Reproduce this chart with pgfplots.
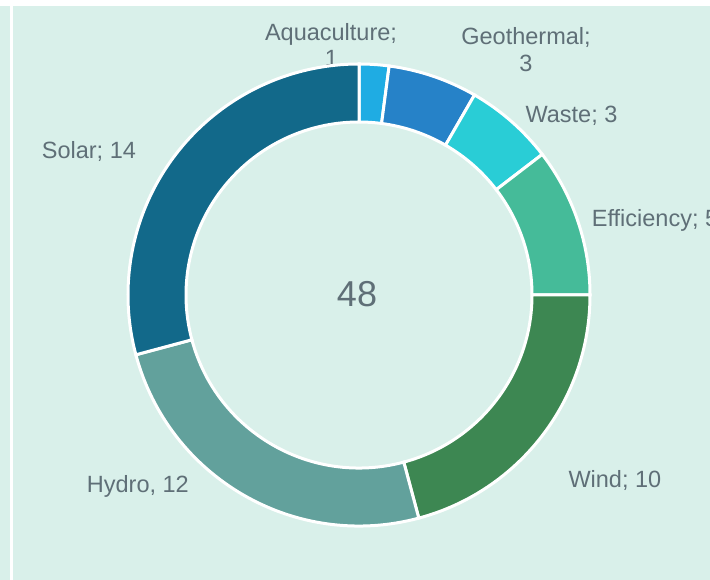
\documentclass[border=0pt]{standalone}
\usepackage{pgfplots}
\pgfplotsset{compat=1.18}
\usepackage{pgfplotstable}
\usepackage{fontspec}
\setmainfont{Liberation Sans}
\definecolor{bg}{HTML}{D9F0EA}
\definecolor{txt}{HTML}{5F6F77}
\definecolor{cAqua}{HTML}{1FACE3}
\definecolor{cGeo}{HTML}{2682C8}
\definecolor{cWaste}{HTML}{29CDD6}
\definecolor{cEff}{HTML}{45BB99}
\definecolor{cWind}{HTML}{3D8752}
\definecolor{cHydro}{HTML}{62A19C}
\definecolor{cSolar}{HTML}{12698A}
\newcommand\lbl{\fontsize{23.5bp}{28bp}\selectfont}
\pgfplotstableread{
name value col
Aquaculture 1 cAqua
Geothermal 3 cGeo
Waste 3 cWaste
Efficiency 5 cEff
Wind 10 cWind
Hydro 12 cHydro
Solar 14 cSolar
}\slices
\begin{document}
\begin{tikzpicture}
\def\total{0}
\pgfplotsforeachungrouped \i in {0,...,6}{%
  \pgfplotstablegetelem{\i}{value}\of\slices
  \pgfmathsetmacro\total{\total+\pgfplotsretval}%
}
\def\cum{0}
\pgfplotsforeachungrouped \i in {0,...,6}{%
  \pgfplotstablegetelem{\i}{value}\of\slices
  \pgfmathsetmacro\s{90-(\cum/\total)*360}%
  \pgfmathsetmacro\cum{\cum+\pgfplotsretval}%
  \pgfmathsetmacro\e{90-(\cum/\total)*360}%
  \expandafter\xdef\csname sliceS\i\endcsname{\s}%
  \expandafter\xdef\csname sliceE\i\endcsname{\e}%
  \pgfplotstablegetelem{\i}{col}\of\slices
  \expandafter\xdef\csname sliceC\i\endcsname{\pgfplotsretval}%
}
\begin{axis}[width=710bp,height=580bp,scale only axis,
  xmin=0,xmax=710,ymin=0,ymax=580,hide axis,clip=true]
\fill[bg] (0,0) rectangle (710,580);
\fill[white] (0,574) rectangle (710,580);
\fill[white] (10,0) rectangle (12.7,580);
% labels
\node[anchor=base,inner sep=0,text=txt,font=\lbl] at (331,539) {Aquaculture;};
\node[anchor=base,inner sep=0,text=txt,font=\lbl] at (331.5,513.5) {1};
\node[anchor=base,inner sep=0,text=txt,font=\lbl] at (526,535) {Geothermal;};
\node[anchor=base,inner sep=0,text=txt,font=\lbl] at (526,508.3) {3};
\node[anchor=base,inner sep=0,text=txt,font=\lbl] at (571.5,457) {Waste; 3};
\node[anchor=base west,inner sep=0,text=txt,font=\lbl] at (591.7,353.3) {Efficiency; 5};
\node[anchor=base west,inner sep=0,text=txt,font=\lbl] at (568.3,92.7) {Wind; 10};
\node[anchor=base west,inner sep=0,text=txt,font=\lbl] at (86.7,87.3) {Hydro, 12};
\node[anchor=base west,inner sep=0,text=txt,font=\lbl] at (41.7,421) {Solar; 14};
\node[anchor=base,inner sep=0,text=txt,font=\fontsize{36bp}{40bp}\selectfont] at (357,273.3) {48};
% ring
\pgfplotsinvokeforeach{0,...,6}{%
  \edef\temp{\noexpand\fill[fill=\csname sliceC#1\endcsname, draw=white, line width=3bp]
   (359,285) ++(\csname sliceS#1\endcsname:231bp)
   arc[start angle=\csname sliceS#1\endcsname, end angle=\csname sliceE#1\endcsname, radius=231bp]
   -- ++(\csname sliceE#1\endcsname+180:58bp)
   arc[start angle=\csname sliceE#1\endcsname, end angle=\csname sliceS#1\endcsname, radius=173bp]
   -- cycle;}%
  \temp
}
\end{axis}
\pgfresetboundingbox
\useasboundingbox (current axis.south west) rectangle (current axis.north east);
\end{tikzpicture}
\end{document}
